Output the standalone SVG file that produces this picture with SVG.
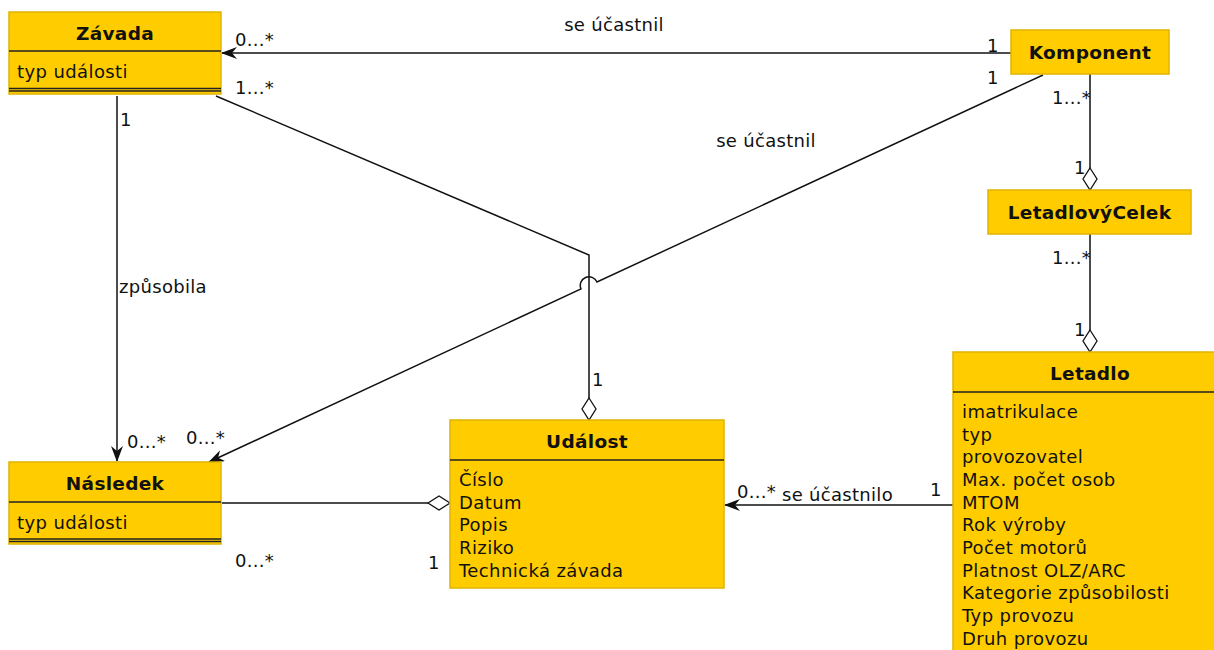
<svg xmlns="http://www.w3.org/2000/svg" width="1214" height="650" viewBox="0 0 1214 650">
  <style>
    .box { fill: #ffcc00; stroke: #e0b400; stroke-width: 1.5; }
    .sep { stroke: #222; stroke-width: 1.5; }
    .title { font-family: "DejaVu Sans", sans-serif; font-size: 18.5px; font-weight: bold; letter-spacing: 0.3px; fill: #111; text-anchor: middle; }
    .attr { font-family: "DejaVu Sans", sans-serif; font-size: 18px; letter-spacing: 0.4px; fill: #111; }
    .lbl { font-family: "DejaVu Sans", sans-serif; font-size: 18px; letter-spacing: 0.3px; fill: #111; }
    .edge { fill: none; stroke: #111; stroke-width: 1.5; }
    .dia { fill: #fff; stroke: #111; stroke-width: 1.3; }
  </style>
  <defs>
    <marker id="arrow" viewBox="0 0 16 12" refX="15" refY="6" markerWidth="16" markerHeight="12" markerUnits="userSpaceOnUse" orient="auto">
      <path d="M0,0 L16,6 L0,12 L5,6 Z" fill="#111"/>
    </marker>
  </defs>
  <rect width="1214" height="650" fill="#fff"/>

  <!-- associations -->
  <g id="connectors">
    <path class="edge" d="M1011,53 L222,53" marker-end="url(#arrow)"/>
    <path class="edge" d="M216,96 L589,255 L589,398"/>
    <path class="edge" d="M1043,75 L597,282 A8,8 0 0 0 581,289 L209,462" marker-end="url(#arrow)"/>
    <path class="edge" d="M117,96 L117,461" marker-end="url(#arrow)"/>
    <path class="edge" d="M222,503 L428,503"/>
    <path class="edge" d="M953,505 L725,505" marker-end="url(#arrow)"/>
    <path class="edge" d="M1090,74 L1090,168"/>
    <path class="edge" d="M1090,234 L1090,330"/>
    <path class="dia" d="M589,398 L596,409 L589,420 L582,409 Z"/>
    <path class="dia" d="M428,503 L439,496 L450,503 L439,510 Z"/>
    <path class="dia" d="M1090,168 L1097,179 L1090,190 L1083,179 Z"/>
    <path class="dia" d="M1090,330 L1097,341 L1090,352 L1083,341 Z"/>

    <text class="lbl" x="614" y="31" text-anchor="middle">se účastnil</text>
    <text class="lbl" x="235" y="46">0...*</text>
    <text class="lbl" x="987" y="52">1</text>
    <text class="lbl" x="235" y="94">1...*</text>
    <text class="lbl" x="987" y="84">1</text>
    <text class="lbl" x="766" y="147" text-anchor="middle">se účastnil</text>
    <text class="lbl" x="120" y="126">1</text>
    <text class="lbl" x="163" y="293" text-anchor="middle">způsobila</text>
    <text class="lbl" x="127" y="448">0...*</text>
    <text class="lbl" x="186" y="444">0...*</text>
    <text class="lbl" x="592" y="386">1</text>
    <text class="lbl" x="235" y="567">0...*</text>
    <text class="lbl" x="428" y="569">1</text>
    <text class="lbl" x="737" y="498">0...*</text>
    <text class="lbl" x="782" y="501">se účastnilo</text>
    <text class="lbl" x="930" y="496">1</text>
    <text class="lbl" x="1052" y="104">1...*</text>
    <text class="lbl" x="1074" y="174">1</text>
    <text class="lbl" x="1052" y="264">1...*</text>
    <text class="lbl" x="1074" y="336">1</text>
  </g>

  <g id="zavada">
    <rect class="box" x="9" y="12" width="212" height="82"/>
    <line class="sep" x1="9" y1="51" x2="221" y2="51"/>
    <line class="sep" x1="9" y1="88.5" x2="221" y2="88.5"/>
    <line class="sep" x1="9" y1="91" x2="221" y2="91"/>
    <text class="title" x="115" y="40">Závada</text>
    <text class="attr" x="17" y="78">typ události</text>
  </g>

  <g id="komponent">
    <rect class="box" x="1011" y="30" width="158" height="44"/>
    <text class="title" x="1090" y="59">Komponent</text>
  </g>

  <g id="letadlovy-celek">
    <rect class="box" x="988" y="190" width="203" height="44"/>
    <text class="title" x="1089.5" y="219">LetadlovýCelek</text>
  </g>

  <g id="letadlo">
    <rect class="box" x="953" y="352" width="280" height="310"/>
    <line class="sep" x1="953" y1="392" x2="1233" y2="392"/>
    <text class="title" x="1090" y="380">Letadlo</text>
    <text class="attr" x="962" y="418">imatrikulace</text>
    <text class="attr" x="962" y="441">typ</text>
    <text class="attr" x="962" y="463">provozovatel</text>
    <text class="attr" x="962" y="486">Max. počet osob</text>
    <text class="attr" x="962" y="509">MTOM</text>
    <text class="attr" x="962" y="531">Rok výroby</text>
    <text class="attr" x="962" y="554">Počet motorů</text>
    <text class="attr" x="962" y="577">Platnost OLZ/ARC</text>
    <text class="attr" x="962" y="599">Kategorie způsobilosti</text>
    <text class="attr" x="962" y="622">Typ provozu</text>
    <text class="attr" x="962" y="645">Druh provozu</text>
  </g>

  <g id="nasledek">
    <rect class="box" x="9" y="462" width="212" height="82"/>
    <line class="sep" x1="9" y1="502" x2="221" y2="502"/>
    <line class="sep" x1="9" y1="539" x2="221" y2="539"/>
    <line class="sep" x1="9" y1="541.5" x2="221" y2="541.5"/>
    <text class="title" x="115" y="490">Následek</text>
    <text class="attr" x="17" y="529">typ události</text>
  </g>

  <g id="udalost">
    <rect class="box" x="450" y="420" width="274" height="168"/>
    <line class="sep" x1="450" y1="460" x2="724" y2="460"/>
    <text class="title" x="587" y="448">Událost</text>
    <text class="attr" x="459" y="486">Číslo</text>
    <text class="attr" x="459" y="509">Datum</text>
    <text class="attr" x="459" y="531">Popis</text>
    <text class="attr" x="459" y="554">Riziko</text>
    <text class="attr" x="459" y="577">Technická závada</text>
  </g>
</svg>
